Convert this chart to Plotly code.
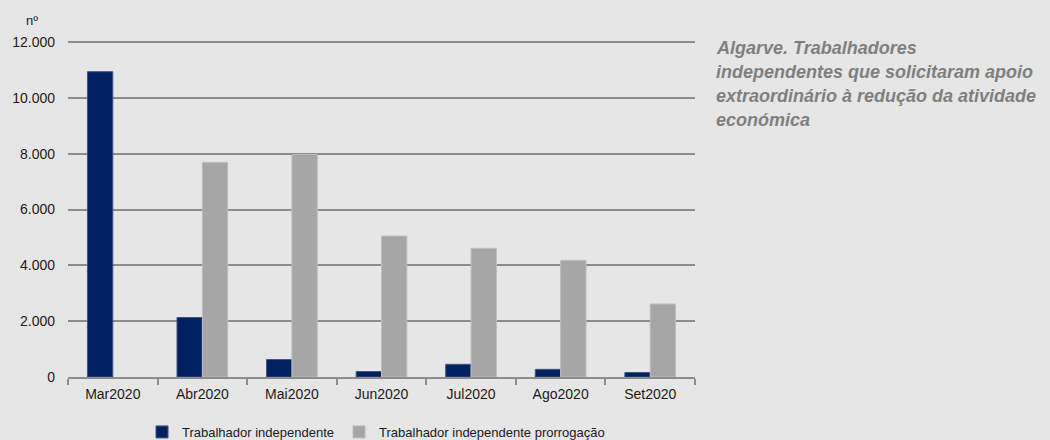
import plotly.graph_objects as go

categories = ["Mar2020", "Abr2020", "Mai2020", "Jun2020", "Jul2020", "Ago2020", "Set2020"]
independente = [10940, 2130, 625, 195, 455, 275, 160]
prorrogacao = [None, 7690, 7975, 5050, 4610, 4180, 2615]
y_ticks = [0, 2000, 4000, 6000, 8000, 10000, 12000]
title_lines = [
    "Algarve. Trabalhadores",
    "independentes que solicitaram apoio",
    "extraordinário à redução da atividade",
    "económica",
]

FONT = "Liberation Sans, Arial, sans-serif"
BG = "#e6e6e6"

fig = go.Figure()
fig.add_trace(go.Bar(
    x=categories, y=independente, name="Trabalhador independente",
    marker=dict(color="#002060", line=dict(color="#3d5585", width=1)),
))
fig.add_trace(go.Bar(
    x=categories, y=prorrogacao, name="Trabalhador independente prorrogação",
    marker=dict(color="#a6a6a6", line=dict(color="#bdbdbd", width=1)),
))

W, H = 1050, 440
ml, mr, mt, mb = 68, 355, 41, 63
pw = W - ml - mr
ph = H - mt - mb

annotations = []
for i, line in enumerate(title_lines):
    ycen = 48 + 24 * i
    annotations.append(dict(
        text="<b><i>" + line + "</i></b>", xref="paper", yref="paper",
        x=(714 - ml) / pw, y=1 - (ycen - mt) / ph, xanchor="left", yanchor="middle",
        showarrow=False, font=dict(family=FONT, size=18, color="#7f7f7f"),
    ))
annotations.append(dict(
    text="nº", xref="paper", yref="paper", x=(32 - ml) / pw, y=1 - (20 - mt) / ph,
    xanchor="center", yanchor="middle", showarrow=False,
    font=dict(family=FONT, size=13, color="#1a1a1a"),
))

fig.update_layout(
    width=W, height=H,
    margin=dict(l=ml, r=mr, t=mt, b=mb, pad=0),
    paper_bgcolor=BG, plot_bgcolor=BG,
    separators=",.",
    font=dict(family=FONT, size=14, color="#1a1a1a"),
    barmode="group", bargap=0.434, bargroupgap=0,
    showlegend=True,
    legend=dict(
        orientation="h", xref="container", yref="container",
        x=142 / W, y=1 - 432 / H,
        xanchor="left", yanchor="middle", bgcolor="rgba(0,0,0,0)",
        font=dict(family=FONT, size=13, color="#1a1a1a"),
        itemwidth=30,
        traceorder="normal",
    ),
    annotations=annotations,
    xaxis=dict(
        showgrid=False, showline=True, linecolor="#8c8c8c", linewidth=2,
        ticks="outside", tickson="boundaries", ticklen=6, tickcolor="#8c8c8c", tickwidth=2,
        ticklabelstandoff=3,
        tickfont=dict(family=FONT, size=14, color="#1a1a1a"),
        fixedrange=True,
    ),
    yaxis=dict(
        range=[0, 12040], tickvals=y_ticks, tickformat=",.0f",
        showgrid=True, gridcolor="#8c8c8c", gridwidth=2,
        zeroline=False, showline=False, ticks="",
        ticklabelstandoff=12,
        tickfont=dict(family=FONT, size=14, color="#1a1a1a"),
        fixedrange=True,
    ),
)

fig.write_html("out.html", config={"displayModeBar": False},
               post_script="document.body.style.margin='0';")
